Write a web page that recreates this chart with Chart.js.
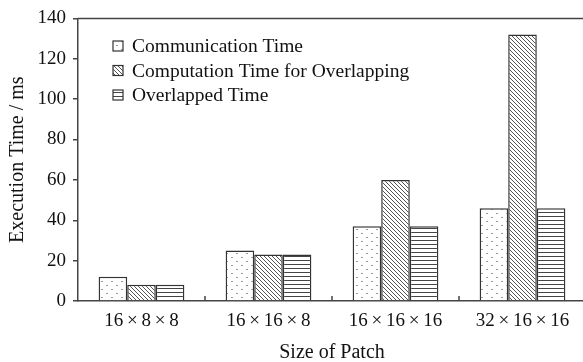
<!DOCTYPE html>
<html>
<head>
<meta charset="utf-8">
<script src="https://cdn.jsdelivr.net/npm/chart.js@4/dist/chart.umd.min.js"></script>
<style>
  html, body { margin: 0; padding: 0; background: #fff; overflow: hidden; }
  #wrap { width: 590px; height: 362px; }
</style>
</head>
<body>
<div id="wrap"><canvas id="chart" width="590" height="362"></canvas></div>
<script>
// Data
const categories = ["16\u00d78\u00d78", "16\u00d716\u00d78", "16\u00d716\u00d716", "32\u00d716\u00d716"];
const seriesNames = ["Communication Time", "Computation Time for Overlapping", "Overlapped Time"];
const communication = [12, 25, 37, 46];
const computation = [8, 23, 60, 132];
const overlapped = [8, 23, 37, 46];
const yTicks = [0, 20, 40, 60, 80, 100, 120, 140];

const FONT = "'Liberation Serif', 'Times New Roman', serif";
const AXIS = "#444";

// fill patterns
function makePattern(kind) {
  const c = document.createElement("canvas");
  const ctx = c.getContext("2d");
  if (kind === "dots") {
    c.width = 10; c.height = 8;
    ctx.fillStyle = "#fff"; ctx.fillRect(0, 0, 10, 8);
    ctx.fillStyle = "#9a9a9a";
    ctx.fillRect(1, 1, 2, 1);
    ctx.fillRect(6, 5, 2, 1);
  } else if (kind === "diag") {
    c.width = 4; c.height = 4;
    ctx.fillStyle = "#fff"; ctx.fillRect(0, 0, 4, 4);
    ctx.fillStyle = "#555";
    for (let i = 0; i < 4; i++) ctx.fillRect(i, i, 1, 1);
  } else {
    c.width = 4; c.height = 4;
    ctx.fillStyle = "#fff"; ctx.fillRect(0, 0, 4, 4);
    ctx.fillStyle = "#444";
    ctx.fillRect(0, 0, 4, 1);
  }
  return ctx.createPattern(c, "repeat");
}

const patterns = [makePattern("dots"), makePattern("diag"), makePattern("horiz")];

// legend inside the plot area
const innerLegend = {
  id: "innerLegend",
  afterDraw(chart) {
    const ctx = chart.ctx;
    ctx.save();
    ctx.font = "19.5px " + FONT;
    ctx.textBaseline = "middle";
    chart.data.datasets.forEach((ds, i) => {
      const y = 46 + i * 24.5;
      ctx.fillStyle = ds.backgroundColor;
      ctx.fillRect(113, y - 5, 10, 10);
      ctx.strokeStyle = "#333";
      ctx.lineWidth = 1.2;
      ctx.strokeRect(113, y - 5, 10, 10);
      ctx.fillStyle = "#111";
      ctx.fillText(ds.label, 132, y + 1);
    });
    ctx.restore();
  }
};

// top frame line and inward ticks at category boundaries
const frame = {
  id: "frame",
  afterDraw(chart) {
    const { ctx, chartArea } = chart;
    const x = chart.scales.x;
    ctx.save();
    ctx.strokeStyle = AXIS;
    ctx.lineWidth = 1.5;
    ctx.beginPath();
    ctx.moveTo(chartArea.left, chartArea.top);
    ctx.lineTo(chartArea.right, chartArea.top);
    for (let i = 1; i < categories.length; i++) {
      const bx = (x.getPixelForValue(i - 1) + x.getPixelForValue(i)) / 2;
      ctx.moveTo(bx, chartArea.bottom);
      ctx.lineTo(bx, chartArea.bottom - 5);
    }
    ctx.stroke();
    ctx.restore();
  }
};

const seriesValues = [communication, computation, overlapped];

new Chart(document.getElementById("chart"), {
  type: "bar",
  data: {
    labels: categories,
    datasets: seriesNames.map((name, i) => ({
      label: name,
      data: seriesValues[i],
      backgroundColor: patterns[i],
      borderColor: "#333",
      borderWidth: 1.5,
      borderSkipped: "bottom",
      categoryPercentage: 0.675,
      barPercentage: 1.0,
    })),
  },
  options: {
    responsive: false,
    animation: false,
    layout: { padding: { top: 17, right: 4, left: 0, bottom: 0 } },
    plugins: {
      legend: { display: false },
      tooltip: { enabled: false },
    },
    scales: {
      x: {
        grid: { display: false, drawTicks: false },
        border: { color: AXIS, width: 1.5 },
        ticks: {
          color: "#111",
          font: { family: FONT, size: 19 },
          padding: 9,
          // widen the multiplication sign like the original typesetting
          callback(v) { return categories[v].split("\u00d7").join("\u2009\u00d7\u2009"); },
        },
        title: {
          display: true,
          text: "Size of Patch",
          color: "#111",
          font: { family: FONT, size: 20 },
          padding: { top: 8, bottom: -3 },
        },
        afterFit(scale) { scale.height = 61; },
      },
      y: {
        min: 0,
        max: 140,
        afterBuildTicks(scale) { scale.ticks = yTicks.map(v => ({ value: v })); },
        grid: { drawOnChartArea: false, drawTicks: true, tickLength: 5, color: AXIS, lineWidth: 1.5 },
        border: { color: AXIS, width: 1.5 },
        ticks: { color: "#111", font: { family: FONT, size: 19 }, padding: 7 },
        title: {
          display: true,
          text: "Execution Time / ms",
          color: "#111",
          font: { family: FONT, size: 20 },
          padding: { top: 6, bottom: 0 },
        },
        afterFit(scale) { scale.width = 78; },
      },
    },
  },
  plugins: [innerLegend, frame],
});
</script>
</body>
</html>
